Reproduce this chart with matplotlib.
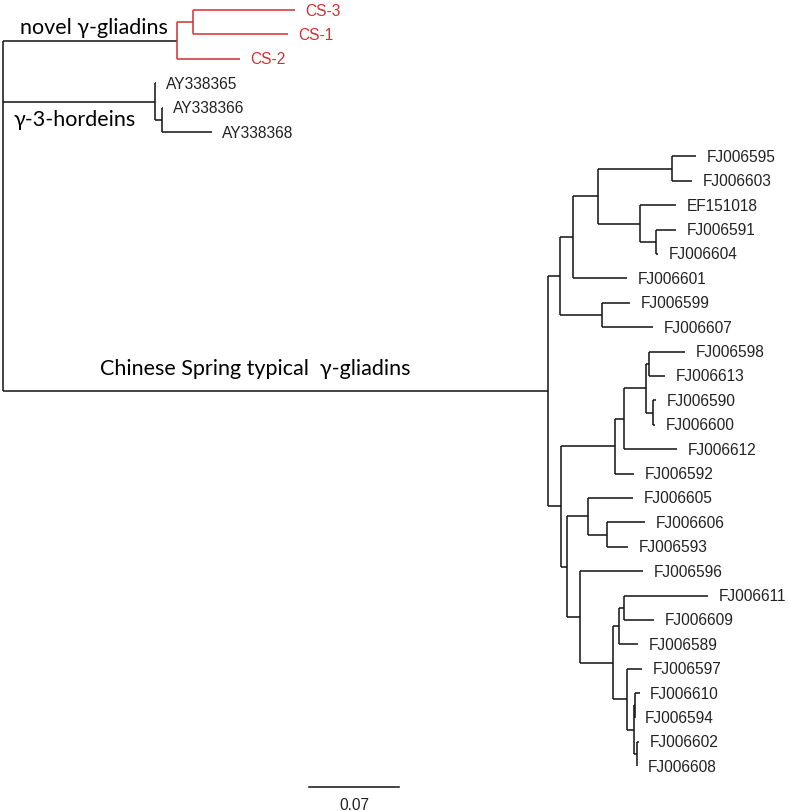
import matplotlib
matplotlib.use('Agg')
from matplotlib import pyplot as plt

# Tree topology and branch lengths (substitutions per site).
# Built from sub-clades so the nesting stays readable.
novel = "((CS-3:0.0793,CS-1:0.0739):0.0124,CS-2:0.0490)"
hordein = "(AY338365:0.0008,(AY338366:0.0008,AY338368:0.0389):0.0054)"

c1111 = "(FJ006595:0.0187,FJ006603:0.0156)"
c1112 = "(EF151018:0.0280,(FJ006591:0.0156,FJ006604:0.0016):0.0124)"
c111 = f"({c1111}:0.0576,{c1112}:0.0327)"
c11 = f"({c111}:0.0194,FJ006601:0.0420)"
c12 = "(FJ006599:0.0218,FJ006607:0.0397)"
c1 = f"({c11}:0.0101,{c12}:0.0327)"

c2111 = "((FJ006598:0.0280,FJ006613:0.0124):0.0023,(FJ006590:0.0023,FJ006600:0.0016):0.0054)"
c211 = f"({c2111}:0.0171,FJ006612:0.0412)"
c21 = f"({c211}:0.0070,FJ006592:0.0148)"
c221 = "(FJ006605:0.0350,(FJ006606:0.0296,FJ006593:0.0163):0.0148)"
c22211 = "((FJ006611:0.0653,FJ006609:0.0233):0.0039,FJ006589:0.0148)"
c22212 = ("(FJ006597:0.0117,((FJ006610:0.0039,FJ006594:0.0):0.0004,"
          "(FJ006602:0.0016,FJ006608:0.0):0.0023):0.0054)")
c2221 = f"({c22211}:0.0047,{c22212}:0.0109)"
c222 = f"(FJ006596:0.0490,{c2221}:0.0257)"
c22 = f"({c221}:0.0163,{c222}:0.0101)"
c2 = f"({c21}:0.0420,{c22}:0.0047)"
cs = f"({c1}:0.0093,{c2}:0.0101)"

newick = f"({novel}:0.1353,{hordein}:0.1182,{cs}:0.4239);"

novel_leaves = ['CS-3', 'CS-1', 'CS-2']
clade_labels = ['novel γ-gliadins', 'γ-3-hordeins', 'Chinese Spring typical  γ-gliadins']
scale_length = 0.07

RED = '#d0302f'
BLACK = '#111111'


def parse(s, i=0):
    # returns (node, index); node = dict(name, length, children)
    node = {'name': '', 'length': 0.0, 'children': []}
    if s[i] == '(':
        i += 1
        while True:
            child, i = parse(s, i)
            node['children'].append(child)
            if s[i] == ',':
                i += 1
            elif s[i] == ')':
                i += 1
                break
    j = i
    while s[i] not in ':,);':
        i += 1
    node['name'] = s[j:i]
    if s[i] == ':':
        i += 1
        j = i
        while s[i] not in ',);':
            i += 1
        node['length'] = float(s[j:i])
    return node, i


root, _ = parse(newick)

leaf_counter = [0]


def layout(node, depth):
    node['x'] = depth
    if not node['children']:
        node['y'] = leaf_counter[0]
        leaf_counter[0] += 1
    else:
        for c in node['children']:
            layout(c, depth + c['length'])
        node['y'] = (node['children'][0]['y'] + node['children'][-1]['y']) / 2


def leaves(node):
    if not node['children']:
        return [node['name']]
    out = []
    for c in node['children']:
        out += leaves(c)
    return out


layout(root, 0.0)

# pixel mapping: 90 px == 0.07, root at x=3 px; leaves at 11 px + 24.4 px each
px_per_unit = 90 / 0.07
W, H = 789, 812
fig = plt.figure(figsize=(W / 100, H / 100), dpi=100)
ax = fig.add_axes([0, 0, 1, 1])
ax.set_xlim(-3 / px_per_unit, (W - 3) / px_per_unit)
ax.set_ylim((H - 11) / 24.4, -11 / 24.4)
ax.axis('off')


def draw(node, red):
    is_red = red or (set(leaves(node)) <= set(novel_leaves) and len(node['children']) > 0)
    col = RED if is_red else BLACK
    if node['children']:
        ys = [c['y'] for c in node['children']]
        ax.plot([node['x'], node['x']], [min(ys), max(ys)], color=col, lw=1.1, solid_capstyle='butt')
        for c in node['children']:
            ax.plot([node['x'], c['x']], [c['y'], c['y']], color=col, lw=1.1, solid_capstyle='butt')
            draw(c, is_red)
    else:
        ax.annotate(node['name'], (node['x'], node['y']), xytext=(7.5, 0), textcoords='offset points',
                    va='center', ha='left', fontsize=11.2, family='Liberation Sans',
                    color=RED if node['name'] in novel_leaves else '#222222')


draw(root, False)

# clade labels
kids = root['children']
ax.text(17 / px_per_unit, kids[0]['y'] - 0.55, clade_labels[0], fontsize=15.5,
        family='Lato', va='center', ha='left', color='black')
ax.text(11 / px_per_unit, kids[1]['y'] + 0.7, clade_labels[1], fontsize=15.5,
        family='Lato', va='center', ha='left', color='black')
ax.text(97 / px_per_unit, kids[2]['y'] - 0.95, clade_labels[2], fontsize=15.5,
        family='Lato', va='center', ha='left', color='black')

# scale bar
sb_x = 306 / px_per_unit
sb_y = 31.85
ax.plot([sb_x, sb_x + scale_length], [sb_y, sb_y], color=BLACK, lw=1.1)
ax.text(sb_x + scale_length / 2, sb_y + 0.4, f'{scale_length:.2f}', ha='center', va='top',
        fontsize=11.2, family='Liberation Sans', color='#222222')

fig.savefig('out.png', dpi=100)
